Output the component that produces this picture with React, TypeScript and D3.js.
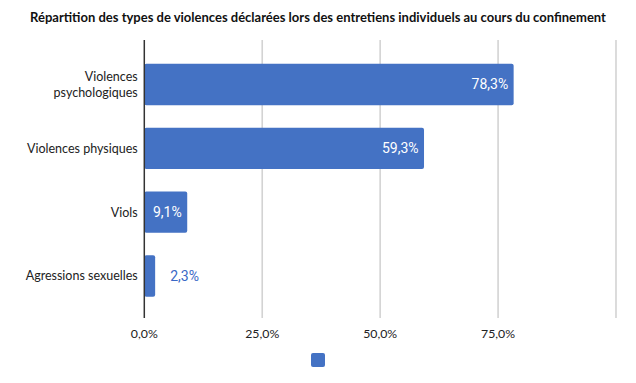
import React from "react";
import * as d3 from "d3";

const title = "Répartition des types de violences déclarées lors des entretiens individuels au cours du confinement";
const categories: string[][] = [
  ["Violences", "psychologiques"],
  ["Violences physiques"],
  ["Viols"],
  ["Agressions sexuelles"],
];
const values = [78.3, 59.3, 9.1, 2.3];
const ticks = [0, 25, 50, 75, 100];
const tickLabels = ["0,0%", "25,0%", "50,0%", "75,0%", ""];

const W = 636;
const H = 383;
const barColor = "#4472C4";
const fmt = (v: number) => v.toFixed(1).replace(".", ",") + "%";

export default function App() {
  const x = d3.scaleLinear().domain([0, 100]).range([144.3, 616]);
  const y = d3
    .scaleBand<number>()
    .domain(values.map((_, i) => i))
    .range([52.7, 307.8])
    .paddingInner(0.35)
    .paddingOuter(0.175);
  const labelFont = "Lato, 'Liberation Sans', sans-serif";
  return (
    <svg
      width={W}
      height={H}
      style={{ position: "absolute", left: 0, top: 0, background: "#fff" }}
    >
      <rect width={W} height={H} fill="#fff" />
      <text
        x={318}
        y={22}
        textAnchor="middle"
        fontFamily={labelFont}
        fontWeight={700}
        fontSize={13}
        fill="#111"
      >
        {title}
      </text>
      {ticks.map((t, i) =>
        t === 0 ? null : (
          <line
            key={"g" + i}
            x1={x(t)}
            x2={x(t)}
            y1={40}
            y2={318}
            stroke="#d3d3d3"
            strokeWidth={1.6}
          />
        )
      )}
      {values.map((v, i) => (
        <rect
          key={"b" + i}
          x={x(0)}
          y={y(i)!}
          width={x(v) - x(0)}
          height={y.bandwidth()}
          rx={2}
          fill={barColor}
        />
      ))}
      <line x1={x(0)} x2={x(0)} y1={40} y2={318} stroke="#333" strokeWidth={1.5} />
      {tickLabels.map((l, i) => (
        <text
          key={"t" + i}
          x={x(ticks[i])}
          y={337.5}
          textAnchor="middle"
          fontFamily={labelFont}
          fontSize={12.3}
          fill="#222"
        >
          {l}
        </text>
      ))}
      {categories.map((lines, i) => {
        const cy = y(i)! + y.bandwidth() / 2;
        const lh = 16;
        const start = cy - ((lines.length - 1) * lh) / 2;
        return (
          <text
            key={"c" + i}
            x={137.7}
            textAnchor="end"
            fontFamily={labelFont}
            fontSize={12.5}
            fill="#222"
          >
            {lines.map((ln, j) => (
              <tspan key={j} x={137.7} y={start + j * lh} dy="0.35em">
                {ln}
              </tspan>
            ))}
          </text>
        );
      })}
      {values.map((v, i) => {
        const inside = x(v) - x(0) > 40;
        const cy = y(i)! + y.bandwidth() / 2;
        return (
          <text
            key={"v" + i}
            x={inside ? x(v) - 5.5 : x(v) + 15}
            y={cy}
            dy="0.35em"
            textAnchor={inside ? "end" : "start"}
            fontFamily="Roboto, 'Liberation Sans', sans-serif"
            fontSize={14}
            fill={inside ? "#fff" : "#3A68C6"}
          >
            {fmt(v)}
          </text>
        );
      })}
      <rect x={311} y={353} width={14} height={14} rx={2} fill={barColor} />
    </svg>
  );
}
